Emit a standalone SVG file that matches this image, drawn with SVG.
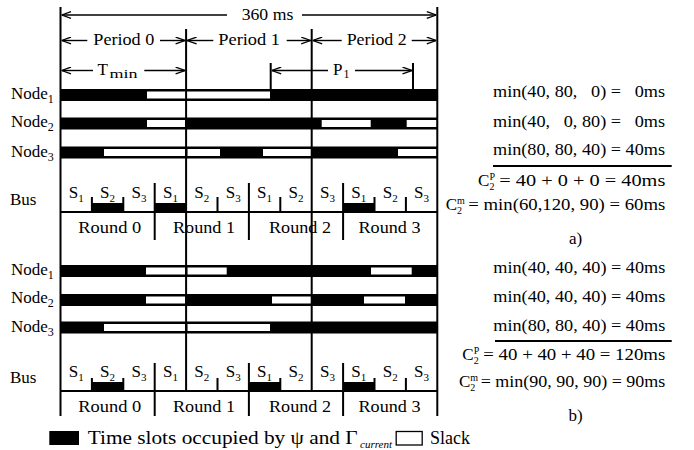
<svg xmlns="http://www.w3.org/2000/svg" width="694" height="450" viewBox="0 0 694 450">
  <style>
    text { font-family: "Liberation Serif", "Times New Roman", serif; fill: #000; }
    .t { font-size: 17px; }
    .sub { font-size: 12px; }
    .sm { font-size: 11px; }
    .ss { font-size: 10px; }
    .f { font-size: 17px; }
    .ln { stroke: #000; stroke-width: 2; fill: none; }
    .ar { stroke: #000; stroke-width: 1.4; fill: none; marker-end: url(#ah); }
    .busy { fill: #000; }
    .slack { fill: #fff; }
  </style>
  <defs>
    <marker id="ah" viewBox="0 0 10 8" refX="10" refY="4" markerWidth="10" markerHeight="8" markerUnits="userSpaceOnUse" orient="auto">
      <path d="M0.5,0.6 L10,4 L0.5,7.4" fill="none" stroke="#000" stroke-width="1.3"/>
    </marker>
  </defs>
  <rect width="694" height="450" fill="#fff"/>

  <!-- time axis annotations -->
  <g id="header">
    <text class="t" x="241.7" y="20" textLength="51.6" lengthAdjust="spacingAndGlyphs">360 ms</text>
    <text class="t" x="93.3" y="44.5" textLength="61" lengthAdjust="spacingAndGlyphs">Period 0</text>
    <text class="t" x="218.3" y="44.5" textLength="61.7" lengthAdjust="spacingAndGlyphs">Period 1</text>
    <text class="t" x="346.7" y="44.5" textLength="60" lengthAdjust="spacingAndGlyphs">Period 2</text>
    <text class="t" x="97.5" y="74.5">T</text>
    <text x="109.5" y="78" font-size="13" textLength="28" lengthAdjust="spacingAndGlyphs">min</text>
    <text class="t" x="333" y="74.5">P</text>
    <text class="sub" x="343.5" y="78">1</text>
  </g>

  <!-- dimension arrows -->
  <g id="connectors">
    <line class="ar" x1="227" y1="15" x2="61.5" y2="15"/>
    <line class="ar" x1="302" y1="15" x2="436.3" y2="15"/>
    <line class="ar" x1="87.3" y1="40.5" x2="61.5" y2="40.5"/>
    <line class="ar" x1="160" y1="40.5" x2="185.1" y2="40.5"/>
    <line class="ar" x1="213.3" y1="40.5" x2="187.1" y2="40.5"/>
    <line class="ar" x1="286.7" y1="40.5" x2="310.7" y2="40.5"/>
    <line class="ar" x1="341.7" y1="40.5" x2="312.7" y2="40.5"/>
    <line class="ar" x1="411.7" y1="40.5" x2="436.3" y2="40.5"/>
    <line class="ar" x1="93" y1="70.5" x2="61.5" y2="70.5"/>
    <line class="ar" x1="144.3" y1="70.5" x2="185.1" y2="70.5"/>
    <line class="ar" x1="328" y1="70.5" x2="271.7" y2="70.5"/>
    <line class="ar" x1="355" y1="70.5" x2="412" y2="70.5"/>
  </g>

  <!-- schedule a): node occupancy -->
  <g id="a-node1">
    <text class="t" x="11" y="98.5">Node<tspan class="sub" dy="4">1</tspan></text>
    <rect class="busy" x="60.5" y="89" width="376.8" height="12"/>
    <rect class="slack" x="147" y="91.5" width="123" height="7"/>
  </g>
  <g id="a-node2">
    <text class="t" x="11" y="127">Node<tspan class="sub" dy="4">2</tspan></text>
    <rect class="busy" x="60.5" y="117.5" width="376.8" height="12"/>
    <rect class="slack" x="147" y="120" width="38" height="7"/>
    <rect class="slack" x="321.7" y="120" width="49" height="7"/>
    <rect class="slack" x="406.7" y="120" width="30" height="7"/>
  </g>
  <g id="a-node3">
    <text class="t" x="11" y="156.5">Node<tspan class="sub" dy="4">3</tspan></text>
    <rect class="busy" x="60.5" y="146.5" width="376.8" height="12"/>
    <rect class="slack" x="104" y="149" width="81" height="7"/>
    <rect class="slack" x="187.5" y="149" width="32.5" height="7"/>
    <rect class="slack" x="263" y="149" width="48" height="7"/>
    <rect class="slack" x="398" y="149" width="38.5" height="7"/>
  </g>

  <!-- schedule b): node occupancy -->
  <g id="b-node1">
    <text class="t" x="11" y="274.5">Node<tspan class="sub" dy="4">1</tspan></text>
    <rect class="busy" x="60.5" y="265" width="376.8" height="12"/>
    <rect class="slack" x="146" y="267.5" width="39" height="7"/>
    <rect class="slack" x="187.5" y="267.5" width="39.2" height="7"/>
    <rect class="slack" x="371" y="267.5" width="40.7" height="7"/>
  </g>
  <g id="b-node2">
    <text class="t" x="11" y="303">Node<tspan class="sub" dy="4">2</tspan></text>
    <rect class="busy" x="60.5" y="294" width="376.8" height="12"/>
    <rect class="slack" x="146" y="296.5" width="39" height="7"/>
    <rect class="slack" x="272" y="296.5" width="39" height="7"/>
    <rect class="slack" x="364" y="296.5" width="41" height="7"/>
  </g>
  <g id="b-node3">
    <text class="t" x="11" y="331.5">Node<tspan class="sub" dy="4">3</tspan></text>
    <rect class="busy" x="60.5" y="321.5" width="376.8" height="12"/>
    <rect class="slack" x="104" y="324" width="81" height="7"/>
    <rect class="slack" x="187.5" y="324" width="82.5" height="7"/>
  </g>

  <!-- frame, period boundaries, round and slot boundaries -->
  <g id="grid">
    <path class="ln" d="M60.5,7 V416 M437.3,7 V416 M186.1,29 V391 M311.7,29 V391 M270.7,63 V89 M413,63 V89"/>
    <path class="ln" d="M154.7,183 V240 M248.9,183 V240 M343.1,183 V240"/>
    <path class="ln" d="M154.7,363 V416 M248.9,363 V416 M343.1,363 V416"/>
    <path class="ln" d="M91.9,197 V212 M123.3,197 V212 M217.5,197 V212 M280.3,197 V212 M374.5,197 V212 M405.9,197 V212"/>
    <path class="ln" d="M91.9,378 V391 M123.3,378 V391 M217.5,378 V391 M280.3,378 V391 M374.5,378 V391 M405.9,378 V391"/>
    <path class="ln" d="M60.5,212 H437.3 M60.5,391 H437.3"/>
  </g>

  <!-- schedule a): bus slots -->
  <g id="a-bus">
    <text class="t" x="10" y="205">Bus</text>
    <rect class="busy" x="91.9" y="203" width="31.4" height="9"/>
    <rect class="busy" x="154.7" y="203" width="31.4" height="9"/>
    <rect class="busy" x="343.1" y="203" width="31.4" height="9"/>
    <g class="t" text-anchor="middle">
      <text x="76.2" y="198">S<tspan class="sm" dy="3.5">1</tspan></text>
      <text x="107.6" y="198">S<tspan class="sm" dy="3.5">2</tspan></text>
      <text x="139" y="198">S<tspan class="sm" dy="3.5">3</tspan></text>
      <text x="170.4" y="198">S<tspan class="sm" dy="3.5">1</tspan></text>
      <text x="201.8" y="198">S<tspan class="sm" dy="3.5">2</tspan></text>
      <text x="233.2" y="198">S<tspan class="sm" dy="3.5">3</tspan></text>
      <text x="264.6" y="198">S<tspan class="sm" dy="3.5">1</tspan></text>
      <text x="296" y="198">S<tspan class="sm" dy="3.5">2</tspan></text>
      <text x="327.4" y="198">S<tspan class="sm" dy="3.5">3</tspan></text>
      <text x="358.8" y="198">S<tspan class="sm" dy="3.5">1</tspan></text>
      <text x="390.2" y="198">S<tspan class="sm" dy="3.5">2</tspan></text>
      <text x="421.6" y="198">S<tspan class="sm" dy="3.5">3</tspan></text>
    </g>
    <text class="t" x="78.3" y="233" textLength="63" lengthAdjust="spacingAndGlyphs">Round 0</text>
    <text class="t" x="173" y="233" textLength="62" lengthAdjust="spacingAndGlyphs">Round 1</text>
    <text class="t" x="269" y="233" textLength="62" lengthAdjust="spacingAndGlyphs">Round 2</text>
    <text class="t" x="358.5" y="233" textLength="62" lengthAdjust="spacingAndGlyphs">Round 3</text>
  </g>

  <!-- schedule b): bus slots -->
  <g id="b-bus">
    <text class="t" x="10" y="383">Bus</text>
    <rect class="busy" x="91.9" y="382" width="31.4" height="9"/>
    <rect class="busy" x="248.9" y="382" width="31.4" height="9"/>
    <rect class="busy" x="343.1" y="382" width="31.4" height="9"/>
    <g class="t" text-anchor="middle">
      <text x="76.2" y="377">S<tspan class="sm" dy="3.5">1</tspan></text>
      <text x="107.6" y="377">S<tspan class="sm" dy="3.5">2</tspan></text>
      <text x="139" y="377">S<tspan class="sm" dy="3.5">3</tspan></text>
      <text x="170.4" y="377">S<tspan class="sm" dy="3.5">1</tspan></text>
      <text x="201.8" y="377">S<tspan class="sm" dy="3.5">2</tspan></text>
      <text x="233.2" y="377">S<tspan class="sm" dy="3.5">3</tspan></text>
      <text x="264.6" y="377">S<tspan class="sm" dy="3.5">1</tspan></text>
      <text x="296" y="377">S<tspan class="sm" dy="3.5">2</tspan></text>
      <text x="327.4" y="377">S<tspan class="sm" dy="3.5">3</tspan></text>
      <text x="358.8" y="377">S<tspan class="sm" dy="3.5">1</tspan></text>
      <text x="390.2" y="377">S<tspan class="sm" dy="3.5">2</tspan></text>
      <text x="421.6" y="377">S<tspan class="sm" dy="3.5">3</tspan></text>
    </g>
    <text class="t" x="78.3" y="412" textLength="63" lengthAdjust="spacingAndGlyphs">Round 0</text>
    <text class="t" x="173" y="412" textLength="62" lengthAdjust="spacingAndGlyphs">Round 1</text>
    <text class="t" x="269" y="412" textLength="62" lengthAdjust="spacingAndGlyphs">Round 2</text>
    <text class="t" x="358.5" y="412" textLength="62" lengthAdjust="spacingAndGlyphs">Round 3</text>
  </g>

  <!-- slack computation for a) -->
  <g id="a-formulas">
    <text class="f" x="493" y="97.3" xml:space="preserve" textLength="172" lengthAdjust="spacingAndGlyphs">min(40, 80,   0) =   0ms</text>
    <text class="f" x="493" y="126.7" xml:space="preserve" textLength="172" lengthAdjust="spacingAndGlyphs">min(40,   0, 80) =   0ms</text>
    <text class="f" x="493" y="155" textLength="172" lengthAdjust="spacingAndGlyphs">min(80, 80, 40) = 40ms</text>
    <line class="ln" x1="493" y1="166" x2="671.7" y2="166"/>
    <text class="f" x="478" y="186">C</text>
    <text class="ss" x="489.5" y="179.5">P</text>
    <text class="ss" x="489.5" y="190">2</text>
    <text class="f" x="499.3" y="186" textLength="166" lengthAdjust="spacingAndGlyphs">= 40 + 0 + 0 = 40ms</text>
    <text class="f" x="445.7" y="210">C</text>
    <text class="ss" x="457" y="203.5">m</text>
    <text class="ss" x="457" y="214">2</text>
    <text class="f" x="468.3" y="210" textLength="197" lengthAdjust="spacingAndGlyphs">= min(60,120, 90) = 60ms</text>
    <text class="t" x="575.5" y="244" text-anchor="middle">a)</text>
  </g>

  <!-- slack computation for b) -->
  <g id="b-formulas">
    <text class="f" x="493.3" y="273.3" textLength="172" lengthAdjust="spacingAndGlyphs">min(40, 40, 40) = 40ms</text>
    <text class="f" x="493.3" y="301.7" textLength="172" lengthAdjust="spacingAndGlyphs">min(40, 40, 40) = 40ms</text>
    <text class="f" x="493.3" y="331" textLength="172" lengthAdjust="spacingAndGlyphs">min(80, 80, 40) = 40ms</text>
    <line class="ln" x1="495" y1="341" x2="671.7" y2="341"/>
    <text class="f" x="462.3" y="360">C</text>
    <text class="ss" x="473.8" y="353.5">P</text>
    <text class="ss" x="473.8" y="364">2</text>
    <text class="f" x="483.3" y="360" textLength="182" lengthAdjust="spacingAndGlyphs">= 40 + 40 + 40 = 120ms</text>
    <text class="f" x="459" y="387">C</text>
    <text class="ss" x="470.3" y="380.5">m</text>
    <text class="ss" x="470.3" y="391">2</text>
    <text class="f" x="480.7" y="387" textLength="184.6" lengthAdjust="spacingAndGlyphs">= min(90, 90, 90) = 90ms</text>
    <text class="t" x="575.5" y="421" text-anchor="middle">b)</text>
  </g>

  <!-- legend -->
  <g id="legend">
    <rect x="49.3" y="431" width="29.7" height="14" fill="#000"/>
    <text x="87.7" y="444" font-size="18" textLength="270" lengthAdjust="spacingAndGlyphs">Time slots occupied by ψ and Γ</text>
    <text x="360" y="448" font-size="11" font-style="italic">current</text>
    <rect x="396.2" y="431.5" width="26" height="13.5" fill="#fff" stroke="#000" stroke-width="1.3"/>
    <text x="430" y="444" font-size="18">Slack</text>
  </g>
</svg>
